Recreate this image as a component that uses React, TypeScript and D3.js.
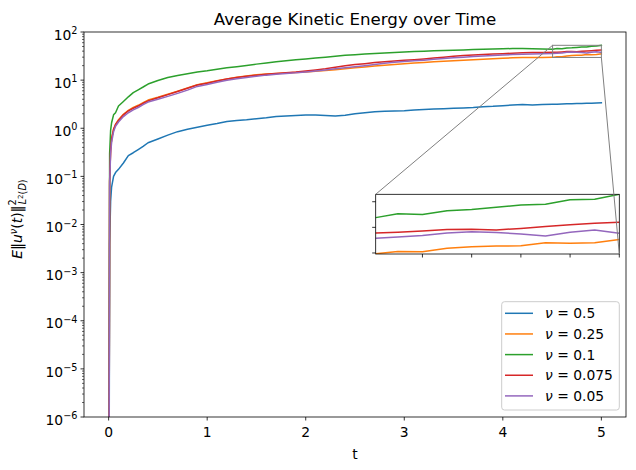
import React from "react";
import * as d3 from "d3";

// ---------- data ----------
const T = [
  0, 0.01, 0.02, 0.03, 0.05, 0.07, 0.1, 0.15, 0.2, 0.25, 0.3, 0.35, 0.4,
  0.5, 0.6, 0.7, 0.8, 0.9, 1.0, 1.1, 1.2, 1.3, 1.4, 1.5, 1.6, 1.7, 1.8, 1.9,
  2.0, 2.1, 2.2, 2.3, 2.4, 2.5, 2.6, 2.7, 2.8, 2.9, 3.0, 3.1, 3.2, 3.3, 3.4,
  3.5, 3.6, 3.7, 3.8, 3.9, 4.0, 4.1, 4.2, 4.3, 4.4,
  4.505, 4.55, 4.6, 4.65, 4.7, 4.75, 4.8, 4.85, 4.9, 4.95, 5.0,
];

const nu05 = [
  0, 0.004, 0.03, 0.06, 0.1, 0.12, 0.14, 0.19, 0.27, 0.31, 0.36, 0.42, 0.5,
  0.6, 0.72, 0.85, 0.95, 1.05, 1.15, 1.25, 1.38, 1.45, 1.5, 1.58, 1.65, 1.75, 1.8, 1.85,
  1.88, 1.88, 1.85, 1.8, 1.86, 2.0, 2.1, 2.2, 2.25, 2.28, 2.32, 2.4, 2.45, 2.5, 2.55,
  2.6, 2.65, 2.7, 2.8, 2.85, 2.95, 3.05, 3.12, 3.05, 3.1,
  3.15, 3.17, 3.19, 3.21, 3.23, 3.25, 3.27, 3.3, 3.32, 3.35, 3.38,
];

const nu025 = [
  0, 0.08, 0.35, 0.6, 0.95, 1.2, 1.5, 1.95, 2.35, 2.7, 3.0, 3.4, 3.85,
  4.4, 5.1, 5.9, 6.9, 8.0, 8.8, 9.7, 10.6, 11.5, 12.2, 12.9, 13.4, 13.8, 14.1, 14.4,
  14.8, 15.3, 15.8, 16.5, 17.3, 18.0, 18.8, 19.6, 20.4, 21.2, 22.0, 22.6, 23.3, 24.0, 24.6,
  25.2, 25.8, 26.5, 27.2, 27.8, 28.4, 29.0, 29.4, 29.5, 29.6,
  29.7, 30.6, 30.5, 31.8, 32.4, 32.7, 32.8, 34.0, 33.8, 34.0, 35.3,
];

const nu01 = [
  0, 0.3, 0.9, 1.3, 1.9, 2.1, 2.9, 3.6, 4.5, 5.5, 6.3, 7.2, 8.3,
  9.8, 11.3, 12.5, 13.6, 14.7, 15.6, 16.8, 18.0, 19.0, 20.2, 21.5, 22.8, 24.0, 25.3, 26.5,
  27.6, 28.8, 30.0, 31.3, 32.8, 33.8, 34.8, 35.8, 36.6, 37.5, 38.5, 39.2, 40.0, 40.6, 41.3,
  42.0, 42.5, 43.2, 43.8, 44.3, 44.8, 45.3, 45.5, 44.8, 44.2,
  43.8, 45.3, 45.0, 46.5, 47.0, 47.8, 48.7, 49.0, 50.8, 51.0, 52.9,
];

const nu0075 = [
  0, 0.08, 0.35, 0.6, 0.95, 1.2, 1.45, 1.9, 2.3, 2.6, 2.9, 3.3, 3.7,
  4.3, 5.0, 5.8, 6.8, 7.9, 8.6, 9.6, 10.5, 11.3, 12.0, 12.7, 13.3, 13.8, 14.3, 14.8,
  15.5, 16.3, 17.2, 18.5, 20.0, 21.0, 22.0, 23.2, 24.2, 25.0, 25.8, 26.5, 27.5, 28.7, 30.0,
  31.2, 32.3, 33.2, 34.0, 34.8, 35.5, 36.3, 37.0, 37.3, 37.5,
  37.8, 38.1, 38.6, 39.2, 39.3, 39.0, 39.6, 40.3, 41.0, 41.6, 42.0,
];

const nu005 = [
  0, 0.07, 0.3, 0.5, 0.85, 1.1, 1.35, 1.75, 2.1, 2.4, 2.7, 3.1, 3.5,
  4.0, 4.6, 5.3, 6.2, 7.4, 8.1, 9.0, 9.9, 10.7, 11.4, 12.0, 12.7, 13.3, 13.8, 14.2,
  14.8, 15.5, 16.3, 17.2, 18.0, 19.0, 20.0, 21.2, 22.3, 23.5, 24.5, 25.3, 26.0, 27.0, 28.0,
  29.0, 30.0, 31.0, 31.8, 32.6, 33.3, 34.0, 34.5, 35.0, 35.3,
  35.7, 36.2, 36.8, 37.8, 38.3, 38.0, 37.4, 36.6, 38.1, 39.0, 37.7,
];

const seriesLabels = ["0.5", "0.25", "0.1", "0.075", "0.05"];
const seriesValues = [nu05, nu025, nu01, nu0075, nu005];
const seriesColors = ["#1f77b4", "#ff7f0e", "#2ca02c", "#d62728", "#9467bd"];

const xTicks = [0, 1, 2, 3, 4, 5];
const yExps = [-6, -5, -4, -3, -2, -1, 0, 1, 2];
const insetXTicks = [4.6, 4.7, 4.8, 4.9, 5.0];
const insetYTicks = [30, 40, 50];
const insetXDomain = [4.505, 5.0];
const insetYDomain = [29.6, 52.9];

const FONT = "DejaVu Sans, Verdana, sans-serif";

export default function App() {
  const W = 636, H = 470;
  const L = 84, R = 626, TOP = 32, B = 417;
  const x = d3.scaleLinear().domain([-0.25, 5.25]).range([L, R]);
  const y = d3.scaleLog().domain([1e-6, 1e2]).range([B, TOP]);

  const IL = 375.7, IR = 619.3, IT = 194.3, IB = 254;
  const xi = d3.scaleLinear().domain(insetXDomain).range([IL, IR]);
  const yi = d3.scaleLinear().domain(insetYDomain).range([IB, IT]);

  const mainLine = d3
    .line<number>()
    .x((_, i) => x(T[i]))
    .y((v) => y(Math.max(v, 1e-12)));

  const insetIdx = T.map((t, i) => i).filter((i) => T[i] >= 4.4);
  const insetLine = d3
    .line<number>()
    .x((i) => xi(T[i]))
    .y((i) => yi(0));

  const minor: number[] = [];
  for (let k = -6; k < 2; k++) for (let j = 2; j <= 9; j++) minor.push(j * Math.pow(10, k));

  const fs = 13.89;
  const sup = 9.72;

  const rx0 = x(insetXDomain[0]), rx1 = x(insetXDomain[1]);
  const ry0 = y(insetYDomain[1]), ry1 = y(insetYDomain[0]);

  return (
    <svg
      width={W}
      height={H}
      style={{ position: "absolute", left: 0, top: 0, background: "#fff" }}
      fontFamily={FONT}
    >
      <defs>
        <clipPath id="mainClip">
          <rect x={L} y={TOP} width={R - L} height={B - TOP} />
        </clipPath>
        <clipPath id="insetClip">
          <rect x={IL} y={IT} width={IR - IL} height={IB - IT} />
        </clipPath>
      </defs>
      <rect x={0} y={0} width={W} height={H} fill="#fff" />

      {/* title */}
      <text x={(L + R) / 2} y={24.5} textAnchor="middle" fontSize={16.67} fill="#000">
        Average Kinetic Energy over Time
      </text>

      {/* series */}
      <g clipPath="url(#mainClip)">
        {seriesValues.map((vals, s) => (
          <path
            key={s}
            d={mainLine(vals) || ""}
            fill="none"
            stroke={seriesColors[s]}
            strokeWidth={1.5}
            strokeLinejoin="round"
            strokeLinecap="square"
          />
        ))}
      </g>

      {/* zoom rectangle */}
      <rect x={rx0} y={ry0} width={rx1 - rx0} height={ry1 - ry0} fill="none" stroke="#808080" strokeWidth={1} />

      {/* spines */}
      <rect x={L} y={TOP} width={R - L} height={B - TOP} fill="none" stroke="#000" strokeWidth={0.8} />

      {/* x ticks */}
      {xTicks.map((t) => (
        <g key={t}>
          <line x1={x(t)} x2={x(t)} y1={B} y2={B + 3.5} stroke="#000" strokeWidth={0.8} />
          <text x={x(t)} y={437} textAnchor="middle" fontSize={fs} fill="#000">
            {t}
          </text>
        </g>
      ))}
      <text x={(L + R) / 2} y={459} textAnchor="middle" fontSize={fs} fill="#000">
        t
      </text>

      {/* y ticks */}
      {minor.map((v, i) => (
        <line key={i} x1={L - 2} x2={L} y1={y(v)} y2={y(v)} stroke="#000" strokeWidth={0.6} />
      ))}
      {yExps.map((e) => {
        const yy = y(Math.pow(10, e));
        return (
          <g key={e}>
            <line x1={L - 3.5} x2={L} y1={yy} y2={yy} stroke="#000" strokeWidth={0.8} />
            <text x={77.5} y={yy + 7.7} textAnchor="end" fontSize={fs} fill="#000">
              10
              <tspan fontSize={sup} dy={-5.6}>
                {e < 0 ? "\u2212" + Math.abs(e) : String(e)}
              </tspan>
            </text>
          </g>
        );
      })}

      {/* y label */}
      <text transform={`translate(22,219) rotate(-90)`} textAnchor="middle" fontSize={fs} fill="#000">
        <tspan fontStyle="italic">E</tspan>
        <tspan>‖</tspan>
        <tspan fontStyle="italic">u</tspan>
        <tspan fontStyle="italic" fontSize={sup} dy={-5.5}>ν</tspan>
        <tspan dy={5.5}>(</tspan>
        <tspan fontStyle="italic">t</tspan>
        <tspan>)‖</tspan>
        <tspan fontSize={sup} dy={-6}>2</tspan>
        <tspan fontSize={sup} fontStyle="italic" dx={-5} dy={10}>L</tspan>
        <tspan fontSize={7} dy={-3}>2</tspan>
        <tspan fontSize={sup} dy={3}>(</tspan>
        <tspan fontSize={sup} fontStyle="italic">D</tspan>
        <tspan fontSize={sup}>)</tspan>
      </text>

      {/* inset */}
      <rect x={IL} y={IT} width={IR - IL} height={IB - IT} fill="#fff" />
      <g clipPath="url(#insetClip)">
        {seriesValues.map((vals, s) => (
          <path
            key={s}
            d={
              d3
                .line<number>()
                .x((i) => xi(T[i]))
                .y((i) => yi(vals[i]))(insetIdx) || ""
            }
            fill="none"
            stroke={seriesColors[s]}
            strokeWidth={1.5}
            strokeLinejoin="round"
          />
        ))}
      </g>
      <rect x={IL} y={IT} width={IR - IL} height={IB - IT} fill="none" stroke="#000" strokeWidth={0.8} />
      {insetXTicks.map((t) => (
        <line key={t} x1={xi(t)} x2={xi(t)} y1={IB} y2={IB + 3.5} stroke="#000" strokeWidth={0.8} />
      ))}
      {insetYTicks.map((v) => (
        <line key={v} x1={IL - 3.5} x2={IL} y1={yi(v)} y2={yi(v)} stroke="#000" strokeWidth={0.8} />
      ))}

      {/* connectors */}
      <line x1={rx0} y1={ry0} x2={IL} y2={IT} stroke="#808080" strokeWidth={1} />
      <line x1={rx1} y1={ry1} x2={IR} y2={IB} stroke="#808080" strokeWidth={1} />

      {/* legend */}
      <rect x={501.7} y={301.7} width={117.6} height={108.3} rx={2.8} fill="#fff" fillOpacity={0.8} stroke="#cccccc" strokeWidth={1} />
      {seriesLabels.map((lab, i) => {
        const ry = 313.3 + i * 20.65;
        return (
          <g key={lab}>
            <line x1={505} x2={533} y1={ry} y2={ry} stroke={seriesColors[i]} strokeWidth={1.5} />
            <text x={545} y={ry + 5} fontSize={fs} fill="#000">
              <tspan fontStyle="italic">ν</tspan>
              <tspan> = {lab}</tspan>
            </text>
          </g>
        );
      })}
    </svg>
  );
}
